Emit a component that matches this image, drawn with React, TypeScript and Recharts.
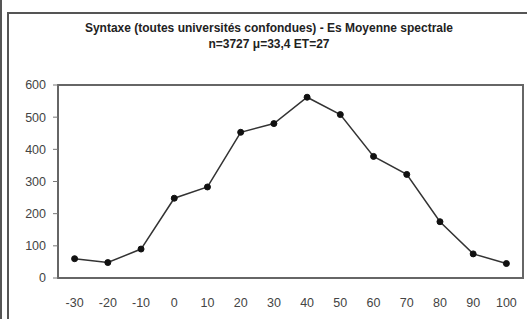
import { LineChart, Line, XAxis, YAxis, ReferenceArea } from "recharts";

const categories = [-30, -20, -10, 0, 10, 20, 30, 40, 50, 60, 70, 80, 90, 100];
const counts = [60, 48, 90, 248, 283, 453, 480, 562, 508, 378, 322, 175, 75, 45];
const yTicks = [0, 100, 200, 300, 400, 500, 600];
const boundaryTicks = [-35, -25, -15, -5, 5, 15, 25, 35, 45, 55, 65, 75, 85, 95, 105];

const data = categories.map((c, i) => ({ x: c, n: counts[i] }));

const font = "'Liberation Sans', Arial, sans-serif";
const tickStyle = { fill: "#444", fontSize: 12.5, fontFamily: font };

export default function App() {
  return (
    <div style={{ position: "fixed", left: 0, top: 0, width: 527, height: 319, background: "#fff", overflow: "hidden", boxShadow: "inset 2px 0 0 0 #555" }}>
      {/* outer chart frame */}
      <svg width={527} height={319} style={{ position: "absolute", left: 0, top: 0 }}>
        <polyline points="8,319 8,13 527,13" fill="none" stroke="#555" strokeWidth={2} />
      </svg>
      <div style={{ position: "absolute", left: 0, top: 0 }}>
        <LineChart width={527} height={319} data={data} margin={{ top: 85, right: 4, bottom: 0, left: 0 }}>
          <XAxis dataKey="x" type="number" domain={[-35, 105]} ticks={categories} interval={0} height={40}
            tickLine={false} axisLine={false} tick={tickStyle} tickMargin={14} />
          {/* tick marks between categories, Excel style */}
          <XAxis xAxisId="b" type="number" domain={[-35, 105]} ticks={boundaryTicks} interval={0}
            tick={false} tickLine={{ stroke: "#777" }} tickSize={4} axisLine={false} height={1} />
          <YAxis type="number" domain={[0, 600]} ticks={yTicks} interval={0} width={58}
            tick={tickStyle} tickLine={{ stroke: "#777" }} tickSize={5} tickMargin={7} axisLine={false} />
          <ReferenceArea x1={-35} x2={105} y1={0} y2={600} fill="none" stroke="#666" strokeWidth={2} ifOverflow="visible" />
          <Line dataKey="n" stroke="#333" strokeWidth={1.5} isAnimationActive={false}
            dot={{ r: 3, fill: "#111", stroke: "#111", strokeWidth: 1 }} />
        </LineChart>
      </div>
      <div style={{ position: "absolute", left: 0, top: 20, width: 538, textAlign: "center", fontFamily: font, fontWeight: "bold", fontSize: 12, lineHeight: "16px", color: "#222" }}>
        <div>Syntaxe (toutes universités confondues) - Es Moyenne spectrale</div>
        <div>n=3727 μ=33,4 ET=27</div>
      </div>
    </div>
  );
}
